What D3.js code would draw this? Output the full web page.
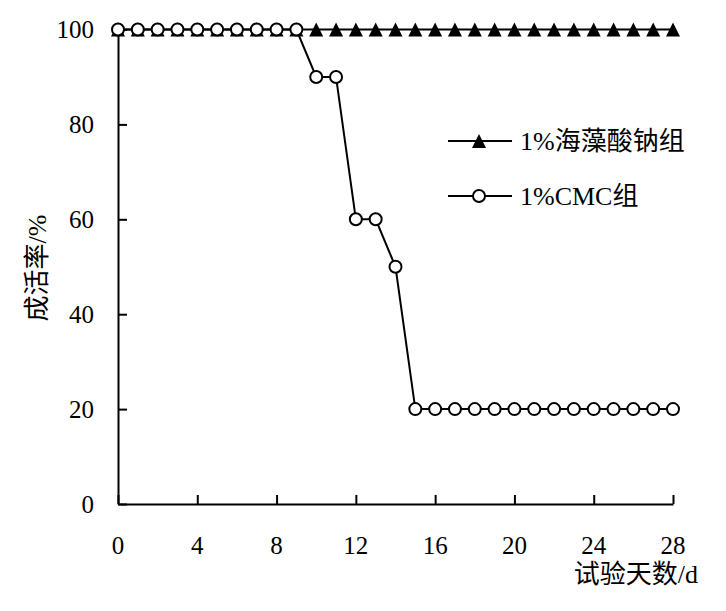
<!DOCTYPE html>
<html>
<head>
<meta charset="utf-8">
<script src="https://cdn.jsdelivr.net/npm/d3@7"></script>
<style>
  body { margin: 0; background: #fff; }
  text { font-family: "Liberation Serif", "Noto Sans CJK SC", serif; fill: #000; }
</style>
</head>
<body>
<svg></svg>
<script>
const days = d3.range(0, 29),
      alginate = [100, 100, 100, 100, 100, 100, 100, 100, 100, 100,
                  100, 100, 100, 100, 100, 100, 100, 100, 100, 100,
                  100, 100, 100, 100, 100, 100, 100, 100, 100],
      cmc = [100, 100, 100, 100, 100, 100, 100, 100, 100, 100,
             90, 90, 60, 60, 50, 20, 20, 20, 20, 20,
             20, 20, 20, 20, 20, 20, 20, 20, 20],
      xTicks = [0, 4, 8, 12, 16, 20, 24, 28],
      yTicks = [0, 20, 40, 60, 80, 100],
      seriesNames = ['1%海藻酸钠组', '1%CMC组'];

const width = 726,
      height = 611,
      xScale = d3.scaleLinear().domain([0, 28]).range([118, 673]),
      yScale = d3.scaleLinear().domain([0, 100]).range([504, 29.5]);

const svg = d3.select('svg')
    .attr('width', width)
    .attr('height', height);

// axes, ticks pointing inward
const xAxis = d3.axisTop(xScale).tickValues(xTicks).tickSize(9).tickSizeOuter(0).tickFormat(''),
      yAxis = d3.axisRight(yScale).tickValues(yTicks).tickSize(9).tickSizeOuter(0).tickFormat('');

svg.append('g')
    .attr('transform', `translate(0, ${yScale(0)})`)
    .call(xAxis)
    .call((g) => g.selectAll('path, line').attr('stroke', '#000').attr('stroke-width', 2));

svg.append('g')
    .attr('transform', `translate(${xScale(0)}, 0)`)
    .call(yAxis)
    .call((g) => g.selectAll('path, line').attr('stroke', '#000').attr('stroke-width', 2));

svg.append('g')
  .selectAll('text')
  .data(xTicks)
  .enter()
  .append('text')
    .attr('x', (d) => xScale(d))
    .attr('y', 554)
    .attr('text-anchor', 'middle')
    .style('font-size', '25px')
    .text((d) => d);

svg.append('g')
  .selectAll('text')
  .data(yTicks)
  .enter()
  .append('text')
    .attr('x', 94)
    .attr('y', (d) => yScale(d))
    .attr('dy', '0.34em')
    .attr('text-anchor', 'end')
    .style('font-size', '25px')
    .text((d) => d);

svg.append('text')
    .text('成活率/%')
    .attr('transform', 'translate(46, 268) rotate(-90)')
    .attr('text-anchor', 'middle')
    .style('font-size', '26px');

svg.append('text')
    .text('试验天数/d')
    .attr('x', 698)
    .attr('y', 583)
    .attr('text-anchor', 'end')
    .style('font-size', '26px');

const line = d3.line()
    .x((d) => xScale(d[0]))
    .y((d) => yScale(d[1]));

// filled triangle, 14px wide and 14px tall, centred on the point
const triangle = 'M0,-7L7,7L-7,7Z';

// alginate series (drawn first, circles sit on top)
const algData = days.map((d, i) => [d, alginate[i]]);
svg.append('path')
    .attr('d', line(algData))
    .attr('fill', 'none')
    .attr('stroke', '#000')
    .attr('stroke-width', 2);

svg.append('g')
  .selectAll('path')
  .data(algData)
  .enter()
  .append('path')
    .attr('d', triangle)
    .attr('transform', (d) => `translate(${xScale(d[0])}, ${yScale(d[1])})`)
    .attr('fill', '#000');

// CMC series
const cmcData = days.map((d, i) => [d, cmc[i]]);
svg.append('path')
    .attr('d', line(cmcData))
    .attr('fill', 'none')
    .attr('stroke', '#000')
    .attr('stroke-width', 2);

svg.append('g')
  .selectAll('circle')
  .data(cmcData)
  .enter()
  .append('circle')
    .attr('cx', (d) => xScale(d[0]))
    .attr('cy', (d) => yScale(d[1]))
    .attr('r', 6)
    .attr('fill', '#fff')
    .attr('stroke', '#000')
    .attr('stroke-width', 2);

// legend
const legend = svg.append('g');
const legendY = [141, 196];

legend.selectAll('line')
  .data(legendY)
  .enter()
  .append('line')
    .attr('x1', 448)
    .attr('x2', 512)
    .attr('y1', (d) => d)
    .attr('y2', (d) => d)
    .attr('stroke', '#000')
    .attr('stroke-width', 2);

legend.append('path')
    .attr('d', triangle)
    .attr('transform', `translate(479, ${legendY[0]})`)
    .attr('fill', '#000');

legend.append('circle')
    .attr('cx', 479)
    .attr('cy', legendY[1])
    .attr('r', 6)
    .attr('fill', '#fff')
    .attr('stroke', '#000')
    .attr('stroke-width', 2);

legend.selectAll('text')
  .data(seriesNames)
  .enter()
  .append('text')
    .attr('x', 520)
    .attr('y', (d, i) => legendY[i])
    .attr('dy', '0.35em')
    .style('font-size', '26px')
    .text((d) => d);
</script>
</body>
</html>
